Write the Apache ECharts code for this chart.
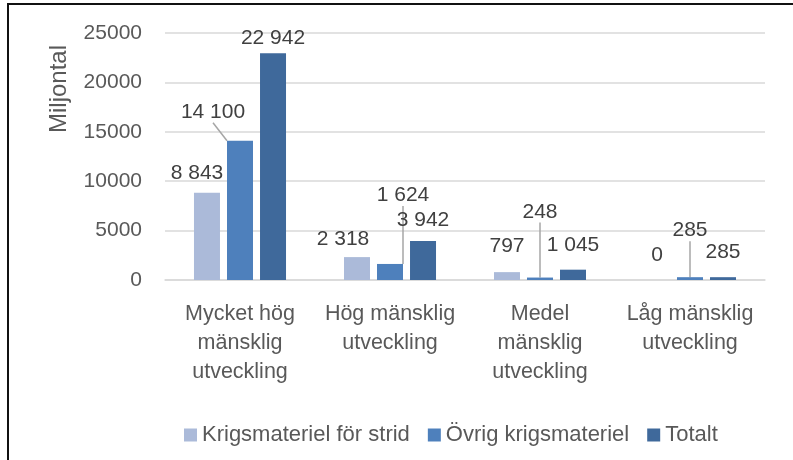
<!DOCTYPE html>
<html>
<head>
<meta charset="utf-8">
<script src="https://cdn.jsdelivr.net/npm/echarts@6/dist/echarts.min.js"></script>
<style>
  html, body { margin: 0; padding: 0; background: #fff; }
  #wrap { position: relative; width: 793px; height: 460px; overflow: hidden; }
  #frame {
    position: absolute; left: 7px; top: 3px; right: -10px; bottom: -10px;
    border-left: 2px solid #111; border-top: 2px solid #111;
  }
  #chart { position: absolute; left: 0; top: 0; width: 793px; height: 460px; }
</style>
</head>
<body>
<div id="wrap">
  <div id="frame"></div>
  <div id="chart"></div>
</div>
<script>
// kategorier och värden (miljontal)
const categories = [
  'Mycket hög\nmänsklig\nutveckling',
  'Hög mänsklig\nutveckling',
  'Medel\nmänsklig\nutveckling',
  'Låg mänsklig\nutveckling'
];
const stridValues = [8843, 2318, 797, 0];
const ovrigValues = [14100, 1624, 248, 285];
const totalValues = [22942, 3942, 1045, 285];
const yTicks = { min: 0, max: 25000, interval: 5000 };

// etikettförflyttningar [dx, dy] per serie och punkt
const labelMoves = [
  [[-10, -4], [-14, -2], [0, -10], [0, -9]],
  [[-27, -13], [13, -53], [0, -50], [0, -31]],
  [[0, 0], [0, -5], [0, -9], [0, -9]]
];
const leaderLines = [false, true, false];

const font = 'Liberation Sans';
const fmt = v => String(v).replace(/\B(?=(\d{3})+(?!\d))/g, ' ');

function makeSeries (name, values, color, idx) {
  return {
    name: name,
    type: 'bar',
    barWidth: 26,
    barGap: '27%',
    itemStyle: { color: color },
    data: values.map(v => ({
      value: v,
      labelLine: { show: leaderLines[idx] }
    })),
    label: {
      show: true,
      position: 'top',
      distance: 5,
      fontFamily: font,
      fontSize: 21,
      color: '#404040',
      formatter: p => fmt(p.value)
    },
    labelLine: {
      show: false,
      lineStyle: { color: '#A6A6A6', width: 1.5 }
    },
    labelLayout: p => ({
      dx: labelMoves[idx][p.dataIndex][0],
      dy: labelMoves[idx][p.dataIndex][1]
    })
  };
}

const chart = echarts.init(document.getElementById('chart'));
chart.setOption({
  animation: false,
  textStyle: { fontFamily: font },
  grid: { left: 165, right: 28, top: 33, height: 247 },
  legend: {
    left: 179,
    top: 419,
    icon: 'rect',
    itemWidth: 13,
    itemHeight: 13,
    itemGap: 18,
    textStyle: { fontFamily: font, fontSize: 22, color: '#595959' }
  },
  xAxis: {
    type: 'category',
    data: categories,
    axisTick: { show: false },
    axisLine: { lineStyle: { color: '#D9D9D9', width: 1.5 } },
    axisLabel: {
      interval: 0,
      margin: 20,
      fontFamily: font,
      fontSize: 21.5,
      lineHeight: 29,
      color: '#595959'
    }
  },
  yAxis: {
    type: 'value',
    min: yTicks.min,
    max: yTicks.max,
    interval: yTicks.interval,
    axisLine: { show: false },
    axisTick: { show: false },
    splitLine: { lineStyle: { color: '#D9D9D9', width: 1.5 } },
    axisLabel: {
      margin: 23,
      fontFamily: font,
      fontSize: 21,
      color: '#595959',
      formatter: v => String(v)
    }
  },
  graphic: [{
    type: 'text',
    x: 59,
    y: 89,
    rotation: Math.PI / 2,
    style: {
      text: 'Miljontal',
      fontFamily: font,
      fontSize: 24,
      fill: '#595959',
      align: 'center',
      verticalAlign: 'middle'
    }
  }],
  series: [
    makeSeries('Krigsmateriel för strid', stridValues, '#ABBAD9', 0),
    makeSeries('Övrig krigsmateriel', ovrigValues, '#4E80BC', 1),
    makeSeries('Totalt', totalValues, '#3F699B', 2)
  ]
});
</script>
</body>
</html>
